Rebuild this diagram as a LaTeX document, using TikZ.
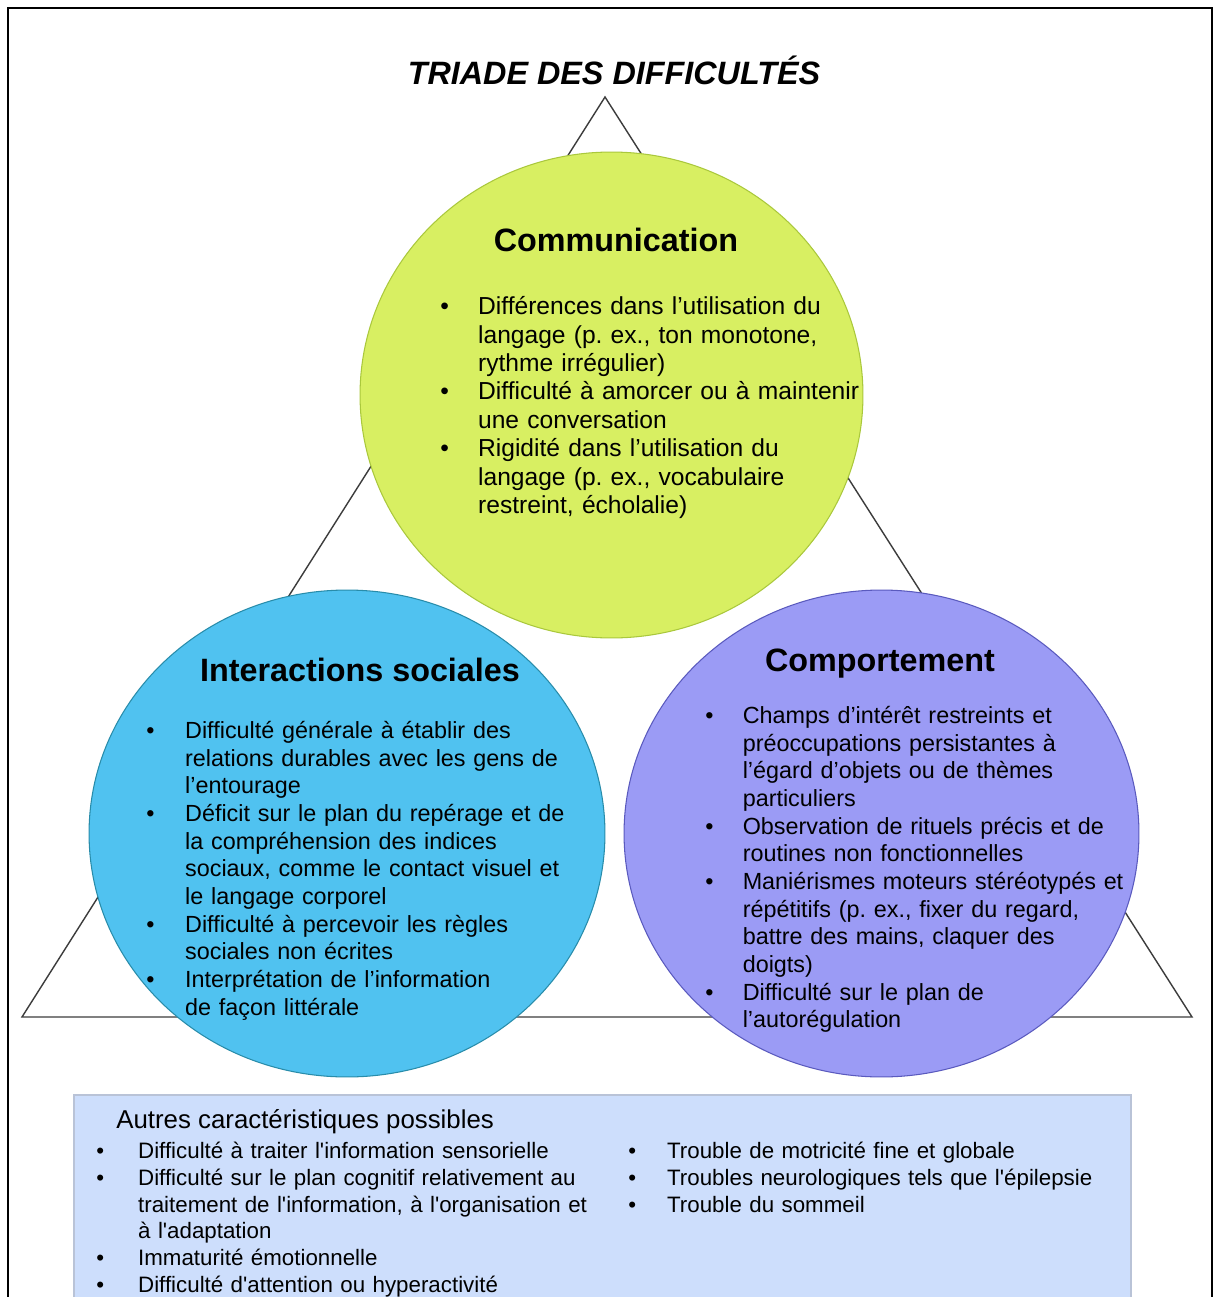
\documentclass[tikz,border=0pt]{standalone}
\usepackage{fontspec}
\setmainfont{Liberation Sans}
\frenchspacing

\definecolor{vertfond}{RGB}{216,239,98}
\definecolor{vertbord}{RGB}{170,200,60}
\definecolor{bleufond}{RGB}{80,194,240}
\definecolor{bleubord}{RGB}{40,140,170}
\definecolor{violetfond}{RGB}{155,155,245}
\definecolor{violetbord}{RGB}{90,90,190}
\definecolor{boitefond}{RGB}{205,222,252}
\definecolor{boitebord}{RGB}{185,195,215}
\definecolor{trait}{RGB}{60,60,60}

\newcommand{\puce}[2]{\par\hangindent=#1\hangafter=1\noindent\makebox[#1][l]{\strut\textbullet}#2}

\begin{document}
\begin{tikzpicture}[x=0.02cm,y=-0.02cm,
		titre/.style={font=\fontsize{18.4pt}{20pt}\selectfont\bfseries\itshape,inner sep=0,anchor=base},
		entete/.style={font=\fontsize{18.4pt}{21pt}\selectfont\bfseries,inner sep=0,anchor=base},
		liste/.style={font=\fontsize{14pt}{16.15pt}\selectfont,inner sep=0,anchor=north west,text width=9cm,align=left},
		listeb/.style={font=\fontsize{13.3pt}{15.75pt}\selectfont,inner sep=0,anchor=north west,text width=9cm,align=left},
		petit/.style={font=\fontsize{12.7pt}{15.3pt}\selectfont,inner sep=0,anchor=north west,text width=10cm,align=left}]
			\useasboundingbox (0,0) rectangle (1214,1297);
			\fill[white] (0,0) rectangle (1214,1297);

			\node[titre] (titre) at (614,85) {TRIADE DES DIFFICULTÉS};
			\draw[trait,line width=0.8pt] (605,97) -- (22,1017) -- (1192,1017) -- cycle;

			\filldraw[fill=vertfond,draw=vertbord,line width=0.6pt] (611.5,395) ellipse (5.03cm and 4.86cm);
			\filldraw[fill=bleufond,draw=bleubord,line width=0.6pt] (347,833.5) ellipse (5.16cm and 4.87cm);
			\filldraw[fill=violetfond,draw=violetbord,line width=0.6pt] (881.5,833.5) ellipse (5.15cm and 4.87cm);

			\node[entete] (comm) at (616,252) {Communication};
			\node[liste] (commliste) at (440,286.1) {
				\puce{21.5pt}{Différences dans l’utilisation du\newline langage (p. ex., ton monotone,\newline rythme irrégulier)}
				\puce{21.5pt}{Difficulté à amorcer ou à maintenir\newline une conversation}
				\puce{21.5pt}{Rigidité dans l’utilisation du\newline langage (p. ex., vocabulaire\newline restreint, écholalie)}\par};

			\node[entete] (inter) at (360,681) {Interactions sociales};
			\node[listeb] (interliste) at (146,710.5) {
				\puce{22.1pt}{Difficulté générale à établir des\newline relations durables avec les gens de\newline l’entourage}
				\puce{22.1pt}{Déficit sur le plan du repérage et de\newline la compréhension des indices\newline sociaux, comme le contact visuel et\newline le langage corporel}
				\puce{22.1pt}{Difficulté à percevoir les règles\newline sociales non écrites}
				\puce{22.1pt}{Interprétation de l’information\newline de façon littérale}\par};

			\node[entete] (comp) at (880,671) {Comportement};
			\node[listeb] (compliste) at (705,695.5) {
				\puce{21.3pt}{Champs d’intérêt restreints et\newline préoccupations persistantes à\newline l’égard d’objets ou de thèmes\newline particuliers}
				\puce{21.3pt}{Observation de rituels précis et de\newline routines non fonctionnelles}
				\puce{21.3pt}{Maniérismes moteurs stéréotypés et\newline répétitifs (p. ex., fixer du regard,\newline battre des mains, claquer des\newline doigts)}
				\puce{21.3pt}{Difficulté sur le plan de\newline l’autorégulation}\par};

			\filldraw[fill=boitefond,draw=boitebord,line width=0.6pt] (74,1330) -- (74,1095) -- (1131,1095) -- (1131,1330);
			\node[inner sep=0,anchor=base west,font=\fontsize{14.7pt}{17pt}\selectfont] (autres) at (116,1128) {Autres caractéristiques possibles};
			\node[petit] (autresg) at (96,1131.1) {
				\puce{23.8pt}{Difficulté à traiter l\textquotesingle information sensorielle}
				\puce{23.8pt}{Difficulté sur le plan cognitif relativement au\newline traitement de l\textquotesingle information, à l\textquotesingle organisation et\newline à l\textquotesingle adaptation}
				\puce{23.8pt}{Immaturité émotionnelle}
				\puce{23.8pt}{Difficulté d\textquotesingle attention ou hyperactivité}\par};
			\node[petit] (autresd) at (628,1131.1) {
				\puce{22.1pt}{Trouble de motricité fine et globale}
				\puce{22.1pt}{Troubles neurologiques tels que l\textquotesingle épilepsie}
				\puce{22.1pt}{Trouble du sommeil}\par};

			\draw[line width=1.1pt] (8,1330) -- (8,8) -- (1212,8) -- (1212,1330);
		\end{tikzpicture}
\end{document}
